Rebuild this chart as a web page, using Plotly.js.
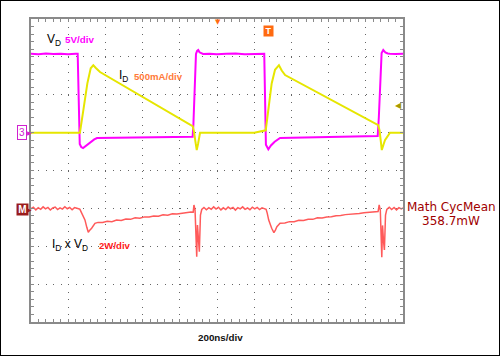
<!DOCTYPE html>
<html><head><meta charset="utf-8">
<script src="https://cdn.plot.ly/plotly-3.0.1.min.js"></script>
<style>
html,body{margin:0;padding:0;background:#fff;}
#wrap{position:relative;width:500px;height:356px;overflow:hidden;}
#chart{width:500px;height:356px;}
#frame{position:absolute;left:0;top:0;width:498px;height:354px;border:1px solid #000;pointer-events:none;}
</style></head><body>
<div id="wrap"><div id="chart"></div><div id="frame"></div></div>
<script>
// ---- data (time in ns, 200 ns/div) ----
const vdTime = [0,40,80,120,160,200,240,251,262,270,280,290,300,320,340,355,400,500,600,700,800,869,873,880,887,893,899,906,915,925,960,1000,1050,1100,1150,1200,1254,1263,1270,1276,1290,1310,1339,1400,1500,1600,1700,1800,1864,1870,1878,1885,1894,1905,1918,1930,1960,2000];
const vdVolts = [10.4,10.35,10.45,10.38,10.42,10.36,10.4,10.4,-1.5,-1.9,-2.05,-1.85,-1.6,-1.2,-0.9,-0.72,-0.7,-0.69,-0.66,-0.64,-0.6,-0.56,1.0,6.0,10.4,10.8,10.9,10.6,10.45,10.38,10.42,10.35,10.4,10.44,10.36,10.4,10.4,-1.6,-2.0,-2.2,-1.7,-1.2,-0.71,-0.68,-0.62,-0.58,-0.53,-0.5,-0.45,2.0,7.0,10.5,10.9,10.6,10.45,10.4,10.38,10.4];

const idTime = [0,100,200,263,281,303,321,335,350,371,869,876,884,891,898,909,925,1000,1100,1200,1262,1276,1294,1312,1333,1348,1366,1867,1874,1880,1886,1895,1903,1930,2000];
const idAmps = [0,0,0,0,0.29,0.65,0.85,0.89,0.85,0.80,0.087,0.02,-0.12,-0.23,-0.15,0,0,0,0,0,0.03,0.30,0.65,0.83,0.89,0.82,0.76,0.10,0.03,-0.1,-0.23,-0.16,-0.1,0,0];

const pTime = [0,13,26,39,52,65,78,91,104,117,130,143,156,169,182,195,208,221,234,247,260,
  263,275,290,300,308,316,326,344,
  360,385,410,435,460,485,510,535,560,585,610,635,660,685,710,735,760,785,810,835,860,872,
  876,882,891,895,900,905,911,918,
  930,943,956,969,982,995,1008,1021,1034,1047,1060,1073,1086,1099,1112,1125,1138,1151,1164,1177,1190,1203,1216,1229,1242,1255,1264,
  1270,1278,1294,1306,1314,1322,1339,
  1365,1390,1415,1440,1465,1490,1515,1540,1565,1590,1615,1640,1665,1690,1715,1740,1765,1790,1815,1840,1866,
  1872,1878,1886,1890,1895,1900,1906,1913,
  1926,1939,1952,1965,1978,1991,2000];
const pWatts = [-0.02,0.06,-0.08,0.04,-0.05,0.08,-0.03,0.05,-0.09,0.02,0.07,-0.06,0.03,-0.04,0.09,-0.02,0.05,-0.07,0.04,0.02,-0.03,
  -0.05,-0.3,-0.61,-1.0,-1.26,-1.15,-1.05,-0.79,
  -0.74,-0.75,-0.68,-0.70,-0.62,-0.64,-0.56,-0.58,-0.50,-0.52,-0.45,-0.46,-0.40,-0.41,-0.34,-0.36,-0.29,-0.30,-0.25,-0.24,-0.19,-0.2,
  0.18,-0.08,-2.55,-0.88,-1.67,-2.29,-0.35,-0.06,
  0.05,-0.07,0.04,-0.05,0.08,-0.04,0.06,-0.08,0.03,-0.06,0.07,-0.02,0.05,-0.09,0.04,-0.03,0.08,-0.05,0.02,-0.07,0.06,-0.03,0.05,-0.06,0.03,-0.04,-0.05,
  -0.25,-0.62,-1.05,-1.28,-1.15,-0.97,-0.79,
  -0.77,-0.70,-0.71,-0.63,-0.64,-0.57,-0.58,-0.50,-0.51,-0.45,-0.44,-0.39,-0.38,-0.33,-0.32,-0.28,-0.27,-0.23,-0.22,-0.19,-0.17,
  0.18,-0.1,-2.58,-0.9,-1.7,-2.2,-0.35,-0.05,
  0.06,-0.06,0.05,-0.08,0.04,-0.03,0.02];

// ---- scales: 5 V/div, 500 mA/div, 2 W/div ----
const timeBase = 200, vPerDiv = 5, aPerDiv = 0.5, wPerDiv = 2;

// ---- layout helpers (pixel -> paper) ----
const L = 31, T = 19, W = 372, H = 303;
const px = p => (p - L) / W;
const py = p => (T + H - p) / H;

const gridColor = '#666', frameColor = '#8a8a8a';
const font = 'Liberation Sans, Arial, sans-serif';

const traces = [
  {x: vdTime, y: vdVolts, yaxis: 'y', type: 'scatter', mode: 'lines',
   line: {color: '#ff00ff', width: 2}, hoverinfo: 'skip'},
  {x: idTime, y: idAmps, yaxis: 'y2', type: 'scatter', mode: 'lines',
   line: {color: '#e6e600', width: 2}, hoverinfo: 'skip'},
  {x: pTime, y: pWatts, yaxis: 'y3', type: 'scatter', mode: 'lines',
   line: {color: '#ff5a5a', width: 1.5}, hoverinfo: 'skip'}
];

const tickCommon = {showticklabels: false, tickcolor: frameColor, tickwidth: 1, zeroline: false, fixedrange: true};

const layout = {
  width: 500, height: 356,
  margin: {l: L, r: 500 - L - W, t: T, b: 356 - T - H, pad: 0},
  paper_bgcolor: '#fff', plot_bgcolor: '#fff', showlegend: false,
  xaxis: Object.assign({range: [0, 10 * timeBase], tick0: 0, dtick: timeBase,
    showgrid: true, gridcolor: gridColor, gridwidth: 1, griddash: '1px,6.575px',
    showline: true, linecolor: frameColor, linewidth: 2, mirror: 'allticks',
    ticks: 'inside', ticklen: 3,
    minor: {dtick: timeBase / 5, ticks: 'inside', ticklen: 3, tickcolor: frameColor, showgrid: false}}, tickCommon),
  yaxis: Object.assign({range: [-5 * vPerDiv, 3 * vPerDiv], tick0: 0, dtick: vPerDiv,
    showgrid: true, gridcolor: gridColor, gridwidth: 1, griddash: '1px,6.44px',
    showline: true, linecolor: frameColor, linewidth: 2, mirror: 'allticks',
    ticks: 'inside', ticklen: 3,
    minor: {dtick: vPerDiv / 5, ticks: 'inside', ticklen: 3, tickcolor: frameColor, showgrid: false}}, tickCommon),
  yaxis2: {overlaying: 'y', range: [-5 * aPerDiv, 3 * aPerDiv], visible: false, fixedrange: true},
  yaxis3: {overlaying: 'y', range: [-3 * wPerDiv, 5 * wPerDiv], visible: false, fixedrange: true},
  xaxis2: Object.assign({overlaying: 'x', anchor: 'free', position: 0.5, range: [0, 10 * timeBase], tick0: 0, dtick: timeBase,
    showgrid: false, showline: false, ticks: 'inside', ticklen: 2,
    minor: {dtick: timeBase / 5, ticks: 'inside', ticklen: 2, tickcolor: frameColor}}, tickCommon),
  xaxis3: Object.assign({overlaying: 'x', anchor: 'free', position: 0.5, range: [0, 10 * timeBase], tick0: 0, dtick: timeBase,
    showgrid: false, showline: false, ticks: 'outside', ticklen: 2,
    minor: {dtick: timeBase / 5, ticks: 'outside', ticklen: 2, tickcolor: frameColor}}, tickCommon),
  yaxis4: Object.assign({overlaying: 'y', anchor: 'free', position: 0.5, range: [-5 * vPerDiv, 3 * vPerDiv], tick0: 0, dtick: vPerDiv,
    showgrid: false, showline: false, ticks: 'inside', ticklen: 2,
    minor: {dtick: vPerDiv / 5, ticks: 'inside', ticklen: 2, tickcolor: frameColor}}, tickCommon),
  yaxis5: Object.assign({overlaying: 'y', anchor: 'free', position: 0.5, range: [-5 * vPerDiv, 3 * vPerDiv], tick0: 0, dtick: vPerDiv,
    showgrid: false, showline: false, ticks: 'outside', ticklen: 2,
    minor: {dtick: vPerDiv / 5, ticks: 'outside', ticklen: 2, tickcolor: frameColor}}, tickCommon),
  annotations: [
    {text: 'V<sub>D</sub>', x: px(44.5), y: py(40), xanchor: 'left', yanchor: 'middle', font: {family: font, size: 12, color: '#000'}},
    {text: '<b>5V/div</b>', x: px(63), y: py(39.7), xanchor: 'left', yanchor: 'middle', font: {family: font, size: 9.8, color: '#ff00ff'}},
    {text: 'I<sub>D</sub>', x: px(116.5), y: py(75.5), xanchor: 'left', yanchor: 'middle', font: {family: font, size: 12, color: '#000'}},
    {text: '<b>500mA/div</b>', x: px(131.5), y: py(76.3), xanchor: 'left', yanchor: 'middle', font: {family: font, size: 9.6, color: '#ff7a3a'}},
    {text: 'I<sub>D</sub> x V<sub>D</sub>', x: px(49.5), y: py(245), xanchor: 'left', yanchor: 'middle', font: {family: font, size: 12, color: '#000'}},
    {text: '<b>2W/div</b>', x: px(96.5), y: py(245.7), xanchor: 'left', yanchor: 'middle', font: {family: font, size: 9.6, color: '#ff2020'}},
    {text: '<b>200ns/div</b>', x: px(220), y: py(337), xanchor: 'center', yanchor: 'middle', font: {family: font, size: 9.8, color: '#111'}},
    {text: 'Math CycMean', x: px(451), y: py(207), xanchor: 'center', yanchor: 'middle', font: {family: 'DejaVu Sans, sans-serif', size: 12, color: '#a00000'}},
    {text: '358.7mW', x: px(451), y: py(220.5), xanchor: 'center', yanchor: 'middle', font: {family: 'DejaVu Sans, sans-serif', size: 12, color: '#a00000'}},
    // channel / trigger markers
    {text: '3', x: px(22), y: py(132), xanchor: 'center', yanchor: 'middle', borderpad: 1,
     bordercolor: '#d020d0', borderwidth: 1, bgcolor: '#fff', font: {family: font, size: 10, color: '#d020d0'}},
    {text: '\u25B6', x: px(29.5), y: py(132), xanchor: 'center', yanchor: 'middle', font: {family: 'DejaVu Sans', size: 6, color: '#d020d0'}},
    {text: '<b>M</b>', x: px(22.5), y: py(209), xanchor: 'center', yanchor: 'middle', width: 11, height: 11, borderpad: 0,
     bgcolor: '#9a1c1c', font: {family: font, size: 10, color: '#fff'}},
    {text: '\u25B6', x: px(29.5), y: py(209), xanchor: 'center', yanchor: 'middle', font: {family: 'DejaVu Sans', size: 6, color: '#9a1c1c'}},
    {text: '<b>T</b>', x: px(268.7), y: py(31.3), xanchor: 'center', yanchor: 'middle', width: 9, height: 10, borderpad: 0,
     bgcolor: '#ff6a10', font: {family: font, size: 9, color: '#fff'}},
    {text: '\u25BC', x: px(217.5), y: py(21.5), xanchor: 'center', yanchor: 'middle', font: {family: 'DejaVu Sans', size: 7, color: '#ff6a10'}},
    {text: '\u25C0', x: px(398.5), y: py(105.5), xanchor: 'center', yanchor: 'middle', font: {family: 'DejaVu Sans', size: 8, color: '#a89a00'}}
  ].map(a => Object.assign({xref: 'paper', yref: 'paper', showarrow: false}, a))
};

Plotly.newPlot('chart', traces, layout, {staticPlot: true, displayModeBar: false});
</script></body></html>
